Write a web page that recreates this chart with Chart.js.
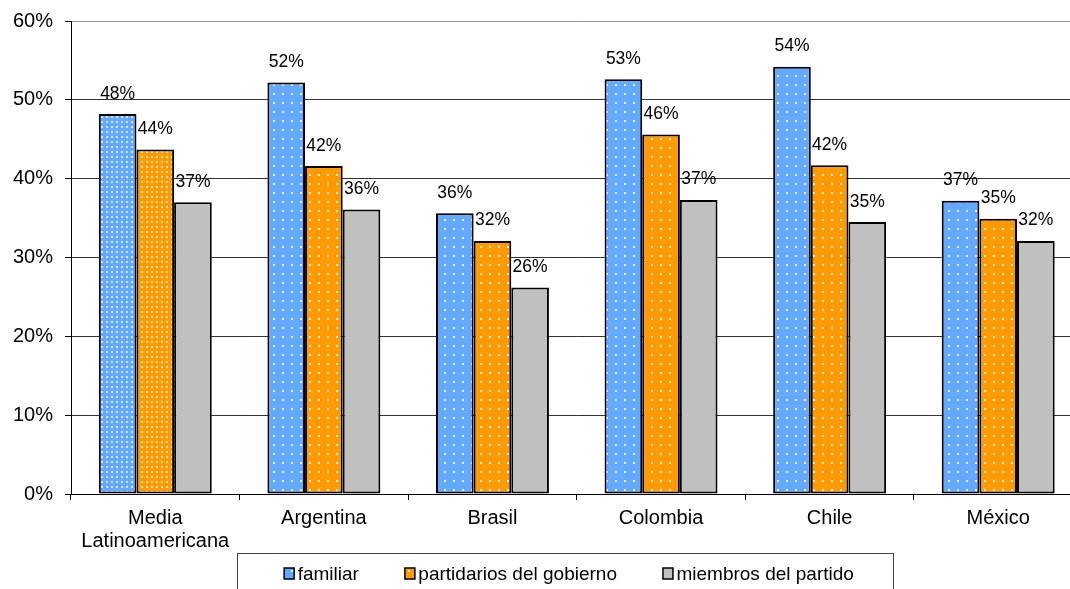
<!DOCTYPE html>
<html>
<head>
<meta charset="utf-8">
<script src="https://cdn.jsdelivr.net/npm/chart.js@4/dist/chart.umd.min.js"></script>
<style>
  html, body { margin: 0; padding: 0; background: #fff; overflow: hidden; }
  #wrap { width: 1090px; height: 589px; }
</style>
</head>
<body>
<div id="wrap"><canvas id="c" width="1090" height="589"></canvas></div>
<script>
// Categories and series (percent of respondents)
const categories = [['Media', 'Latinoamericana'], 'Argentina', 'Brasil', 'Colombia', 'Chile', 'México'];
const familiar = [48.2, 52.2, 35.6, 52.6, 54.2, 37.2];
const partidarios = [43.7, 41.6, 32.1, 45.6, 41.7, 34.9];
const miembros = [37.0, 36.1, 26.2, 37.3, 34.5, 32.1];
const seriesNames = ['familiar', 'partidarios del gobierno', 'miembros del partido'];
const yTicks = [0, 10, 20, 30, 40, 50, 60];

const FONT = '"Liberation Sans", Arial, Helvetica, sans-serif';
const BLUE = '#63a9ff';
const ORANGE = '#ff9a00';
const GRAY = '#c0c0c0';

// Dotted fill patterns (dense for the regional average, sparse for countries)
function dotPattern(base, size, dot, alpha) {
  const t = document.createElement('canvas');
  t.width = size; t.height = size;
  const g = t.getContext('2d');
  g.fillStyle = base;
  g.fillRect(0, 0, size, size);
  g.fillStyle = 'rgba(255,255,255,' + alpha + ')';
  g.fillRect(Math.floor(size / 2) - 1, Math.floor(size / 2) - 1, dot, dot);
  return g.createPattern(t, 'repeat');
}
const ctx = document.getElementById('c').getContext('2d');
const blueDense = dotPattern(BLUE, 5, 2, 0.7);
const blueSparse = dotPattern(BLUE, 9, 2, 0.85);
const orangeDense = dotPattern(ORANGE, 5, 2, 0.7);
const orangeSparse = dotPattern(ORANGE, 9, 2, 0.85);

// Value labels above each bar
const valueLabels = {
  id: 'valueLabels',
  afterDatasetsDraw(chart) {
    const c = chart.ctx;
    c.save();
    c.font = '17.5px ' + FONT;
    c.fillStyle = '#000';
    c.textAlign = 'center';
    c.textBaseline = 'alphabetic';
    chart.data.datasets.forEach((ds, i) => {
      chart.getDatasetMeta(i).data.forEach((el, j) => {
        c.fillText(Math.round(ds.data[j]) + '%', el.x, el.y - 15.5);
      });
    });
    c.restore();
  }
};

// Boxed legend below the category labels
const boxLegend = {
  id: 'boxLegend',
  afterDraw(chart) {
    const c = chart.ctx;
    c.save();
    c.strokeStyle = '#444';
    c.lineWidth = 1;
    c.strokeRect(237.5, 553.5, 656, 60);
    c.font = '19px ' + FONT;
    c.textBaseline = 'alphabetic';
    c.textAlign = 'left';
    const fills = [blueSparse, orangeSparse, GRAY];
    const gap = 46;
    const widths = seriesNames.map(n => 10 + 3.5 + c.measureText(n).width);
    const total = widths.reduce((a, b) => a + b, 0) + gap * (widths.length - 1);
    let x = 569 - total / 2;
    seriesNames.forEach((n, i) => {
      c.fillStyle = fills[i];
      c.fillRect(x, 568, 10, 11);
      c.strokeStyle = '#000';
      c.lineWidth = 1.5;
      c.strokeRect(x, 568, 10, 11);
      c.fillStyle = '#000';
      c.fillText(n, x + 13.5, 579.5);
      x += widths[i] + gap;
    });
    c.restore();
  }
};

new Chart(ctx, {
  type: 'bar',
  data: {
    labels: categories,
    datasets: [
      { label: seriesNames[0], data: familiar,
        backgroundColor: (cx) => cx.dataIndex === 0 ? blueDense : blueSparse },
      { label: seriesNames[1], data: partidarios,
        backgroundColor: (cx) => cx.dataIndex === 0 ? orangeDense : orangeSparse },
      { label: seriesNames[2], data: miembros, backgroundColor: GRAY }
    ]
  },
  options: {
    responsive: false,
    animation: false,
    devicePixelRatio: 1,
    layout: { padding: { top: 21, right: 7.5, bottom: 0, left: 0 } },
    datasets: {
      bar: {
        categoryPercentage: 0.67,
        barPercentage: 1.0,
        borderColor: '#000',
        borderWidth: 2,
        borderSkipped: false
      }
    },
    plugins: {
      legend: { display: false },
      tooltip: { enabled: false }
    },
    scales: {
      x: {
        offset: true,
        afterFit(scale) {
          scale.height = 95;
          scale.paddingLeft = 0;
          scale.paddingRight = 0;
        },
        grid: {
          offset: true,
          drawOnChartArea: false,
          drawTicks: true,
          tickLength: 6,
          color: '#000',
          tickColor: '#000'
        },
        border: { display: true, color: '#000', width: 1 },
        ticks: {
          autoSkip: false,
          maxRotation: 0,
          padding: 7,
          color: '#000',
          font: { family: FONT, size: 20, lineHeight: 1.15 }
        }
      },
      y: {
        min: 0,
        max: 60,
        afterFit(scale) {
          scale.width = 71;
          scale.paddingTop = 0;
          scale.paddingBottom = 0;
        },
        afterBuildTicks(scale) { scale.ticks = yTicks.map(v => ({ value: v })); },
        grid: {
          color: (cx) => cx.tick && cx.tick.value === 60 ? '#999' : '#333',
          lineWidth: 1,
          drawTicks: true,
          tickLength: 6,
          tickColor: '#000'
        },
        border: { display: true, color: '#000', width: 1 },
        ticks: {
          padding: 12,
          color: '#000',
          font: { family: FONT, size: 20 },
          callback: (v) => v + '%'
        }
      }
    }
  },
  plugins: [valueLabels, boxLegend]
});
</script>
</body>
</html>
